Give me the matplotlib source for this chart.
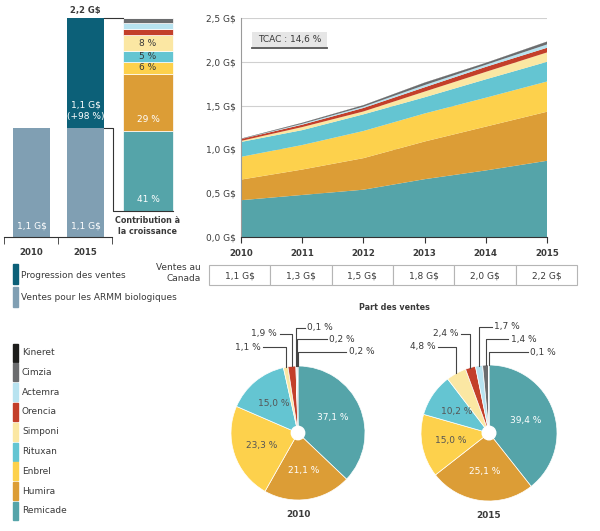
import numpy as np
import matplotlib
matplotlib.use('Agg')
import matplotlib.pyplot as plt
from matplotlib.patches import Rectangle, Circle

plt.rcParams['font.family'] = ['DejaVu Sans']
TXT = '#3a3a3a'
FS = 6.5      # regular text
FB = 5.8      # bold text
FY = 6.2      # bold year labels

# ---- data ----
drugs = ['Remicade', 'Humira', 'Enbrel', 'Rituxan', 'Simponi',
         'Orencia', 'Actemra', 'Cimzia', 'Kineret']
colors = ['#55a4a9', '#dc9d36', '#fdd14c', '#64c5d2', '#fbe7a3',
          '#c33f2a', '#b8e3f0', '#6b6c6e', '#1d1d1b']

years = [2010, 2011, 2012, 2013, 2014, 2015]
remicade = [0.42, 0.48, 0.54, 0.66, 0.76, 0.87]
humira = [0.235, 0.29, 0.36, 0.43, 0.50, 0.56]
enbrel = [0.26, 0.28, 0.31, 0.32, 0.33, 0.345]
rituxan = [0.17, 0.17, 0.19, 0.185, 0.21, 0.225]
simponi = [0.012, 0.035, 0.033, 0.065, 0.085, 0.107]
orencia = [0.021, 0.027, 0.04, 0.049, 0.057, 0.053]
actemra = [0.001, 0.01, 0.015, 0.025, 0.024, 0.038]
cimzia = [0.002, 0.01, 0.015, 0.027, 0.02, 0.031]
kineret = [0.002, 0.002, 0.002, 0.002, 0.002, 0.002]
sales_labels = ['1,1 G$', '1,3 G$', '1,5 G$', '1,8 G$', '2,0 G$', '2,2 G$']

bar_years = ['2010', '2015']
base_sales = [1.1, 1.1]
growth = [0.0, 1.1]
growth_pct = 98
contrib = [41.7, 29.2, 6.5, 5.3, 8.5, 2.9, 3.2, 2.6, 0.1]

share_2010 = [37.1, 21.1, 23.3, 15.0, 1.1, 1.9, 0.1, 0.2, 0.2]
share_2015 = [39.4, 25.1, 15.0, 10.2, 4.8, 2.4, 1.7, 1.4, 0.1]
cagr = '14,6 %'


def fr(v, d=1):
    return ('%.*f' % (d, v)).replace('.', ',')


fig = plt.figure(figsize=(6, 5.31), dpi=100)
W, H = 600.0, 531.0

# overlay in pixel units for legends / table
bg = fig.add_axes([0, 0, 1, 1])
bg.set_xlim(0, W)
bg.set_ylim(H, 0)
bg.axis('off')

# ---- left bar panel ----
ax = fig.add_axes([4 / W, (H - 237) / H, 176 / W, 237 / H])
ax.set_xlim(-0.509, -0.509 + 176 / 54.0)
ax.set_ylim(0, 237 / 99.5)
bw = 0.69
xb = np.arange(len(bar_years))
ax.bar(xb, base_sales, bw, color='#809fb3')
ax.bar(xb, growth, bw, bottom=base_sales, color='#0c6078')
for i in xb:
    ax.text(i, 0.11, fr(base_sales[i]) + ' G$', color='white', ha='center',
            va='center', fontsize=FS)
top = base_sales[1] + growth[1]
ax.text(1, base_sales[1] + 0.17, fr(growth[1]) + ' G$\n(+%d %%)' % growth_pct,
        color='white', ha='center', va='center', fontsize=FS, linespacing=1.3)
ax.text(1, top + 0.08, fr(top) + ' G$', color=TXT, ha='center', va='center',
        fontsize=6.0, fontweight='bold')

# contribution column
cx, cw = 2.157, 0.93
cbot = 0.26
scale = (top - cbot) / sum(contrib)
b = cbot
for v, c in zip(contrib, colors):
    h = v * scale
    ax.bar(cx, h, cw, bottom=b, color=c, edgecolor='white', linewidth=0.5)
    if v >= 5:
        tc = 'white' if v > 20 else TXT
        ax.text(cx, b + min(h / 2, 0.115), '%d %%' % int(v), color=tc,
                ha='center', va='center', fontsize=FS)
    b += h
lc = '#333333'
ax.plot([1 + bw / 2, cx - cw / 2], [top, top], color=lc, lw=0.8)
ax.plot([1 + bw / 2, 1.509, 1.509, cx + cw / 2],
        [base_sales[1], base_sales[1], cbot, cbot], color=lc, lw=0.8)
ax.text(cx, 0.11, 'Contribution à\nla croissance', color=TXT, ha='center',
        va='center', fontsize=FB, fontweight='bold', linespacing=1.2)

for s in ['top', 'right', 'left']:
    ax.spines[s].set_visible(False)
ax.spines['bottom'].set_bounds(-0.5, 1.5)
ax.spines['bottom'].set_color('#333333')
ax.set_yticks([])
ax.set_xticks(xb)
ax.set_xticklabels(bar_years, fontweight='bold', fontsize=FY, color=TXT)
ax.tick_params(axis='x', which='major', length=0, pad=8)
ax.set_xticks([-0.5, 0.5, 1.5], minor=True)
ax.tick_params(axis='x', which='minor', length=5, color='#333333')
ax.patch.set_alpha(0)

# ---- stacked area ----
ax2 = fig.add_axes([241 / W, (H - 237) / H, 306 / W, 219 / H])
layers = [remicade, humira, enbrel, rituxan, simponi, orencia, actemra,
          cimzia, kineret]
ax2.stackplot(years, layers, colors=colors, lw=0)
ax2.set_xlim(years[0], years[-1])
ax2.set_ylim(0, 2.5)
yt = np.arange(0, 2.51, 0.5)
ax2.set_yticks(yt)
ax2.set_yticklabels([fr(v) + ' G$' for v in yt], fontsize=FS, color=TXT)
ax2.set_xticks(years)
ax2.set_xticklabels([str(y) for y in years], fontweight='bold', fontsize=FY,
                    color=TXT)
ax2.tick_params(axis='y', length=0, pad=4)
ax2.tick_params(axis='x', length=4, pad=5, color='#333333')
ax2.grid(axis='y', color='#d0d0d0', lw=0.8)
ax2.set_axisbelow(True)
for s in ['top', 'right']:
    ax2.spines[s].set_visible(False)
ax2.spines['left'].set_color('#9a9a9a')
ax2.spines['bottom'].set_color('#333333')
ax2.add_patch(Rectangle((2010.18, 2.169), 1.225, 0.171, fc='#e6e6e6',
                        ec='none', zorder=3))
ax2.plot([2010.18, 2011.405], [2.16, 2.16], color='#555555', lw=1.3, zorder=3)
ax2.text(2010.79, 2.255, 'TCAC : ' + cagr, ha='center', va='center',
         fontsize=FS, color=TXT, zorder=4)

# ---- legends ----
bg.add_patch(Rectangle((12.5, 264), 5.5, 20, color='#0c6078'))
bg.add_patch(Rectangle((12.5, 287), 5.5, 20, color='#809fb3'))
bg.text(21, 275, 'Progression des ventes', va='center', fontsize=FS, color=TXT)
bg.text(21, 298, 'Ventes pour les ARMM biologiques', va='center', fontsize=FS,
        color=TXT)
for k, (name, c) in enumerate(zip(drugs[::-1], colors[::-1])):
    yc = 352.5 + k * 19.8
    bg.add_patch(Rectangle((12.5, yc - 9), 5.5, 18, color=c))
    bg.text(22, yc, name, va='center', fontsize=FS, color=TXT)

# ---- table ----
bg.text(201, 273, 'Ventes au\nCanada', ha='right', va='center', fontsize=FS,
        color=TXT, linespacing=1.2)
x0t, x1t = 209, 577
cwid = (x1t - x0t) / len(sales_labels)
for i, s in enumerate(sales_labels):
    bg.add_patch(Rectangle((x0t + i * cwid, 265), cwid, 20, fc='white',
                           ec='#b5b5b5', lw=0.8))
    bg.text(x0t + (i + 0.5) * cwid, 275.5, s, ha='center', va='center',
            fontsize=FS, color=TXT)

bg.text(394, 308, 'Part des ventes', ha='center', va='center', fontsize=FB,
        fontweight='bold', color=TXT)

# ---- pies ----
pie_cfg = [
    (298, 67, share_2010, '2010',
     [1.28, 1.48, 1.57, 1.40, 1.21], [-0.52, -0.27, 0.10, 0.43, 0.72]),
    (489, 68, share_2015, '2015',
     [1.27, 1.46, 1.56, 1.38, 1.19], [-0.75, -0.41, 0.04, 0.28, 0.57]),
]
for cxp, R, share, yr, lev, ends in pie_cfg:
    pa = fig.add_axes([(cxp - R) / W, (H - 433 - R) / H, 2 * R / W, 2 * R / H])
    pa.pie(share, colors=colors, startangle=90, counterclock=False,
           wedgeprops=dict(edgecolor='white', linewidth=0.5))
    pa.add_patch(Circle((0, 0), 0.1, color='white', zorder=5))
    pa.set_xlim(-1, 1)
    pa.set_ylim(-1, 1)
    pa.set_aspect('equal')
    pa.axis('off')
    cum = np.cumsum([0] + share[:-1])
    small = 0
    for v, c0, name in zip(share, cum, drugs):
        th = np.deg2rad(90 - (c0 + v / 2) / sum(share) * 360)
        lab = fr(v) + ' %'
        if v >= 10:
            tc = 'white' if name in ('Remicade', 'Humira') else '#555555'
            pa.text(0.57 * np.cos(th), 0.57 * np.sin(th), lab, color=tc,
                    ha='center', va='center', fontsize=FS)
        else:
            x0, y0 = np.cos(th), np.sin(th)
            L, xe = lev[small], ends[small]
            pa.plot([x0, x0, xe], [y0, L, L], color='#444444', lw=0.8,
                    clip_on=False)
            if xe < x0:
                pa.text(xe - 0.04, L, lab, ha='right', va='center',
                        fontsize=FS, color=TXT)
            else:
                pa.text(xe + 0.04, L, lab, ha='left', va='center',
                        fontsize=FS, color=TXT)
            small += 1
    pa.text(0, -1.22, yr, ha='center', va='center', fontsize=6.4,
            fontweight='bold', color=TXT)

fig.savefig('out.png', dpi=100)
